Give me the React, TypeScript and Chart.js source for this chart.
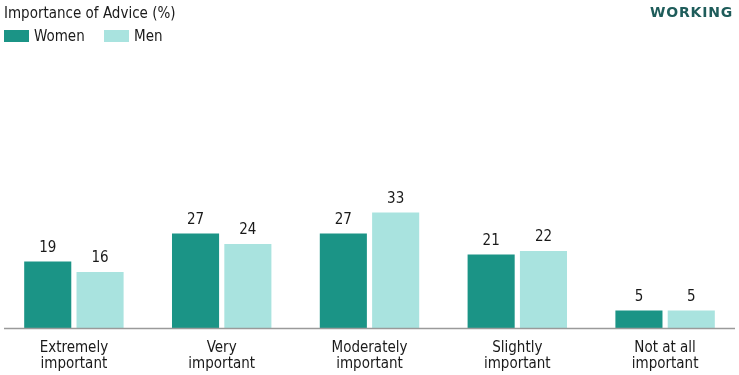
import React, { useEffect, useRef } from "react";
import { Chart, registerables } from "chart.js";

Chart.register(...registerables);

const categories: string[][] = [
  ["Extremely", "important"],
  ["Very", "important"],
  ["Moderately", "important"],
  ["Slightly", "important"],
  ["Not at all", "important"],
];
const women = [19, 27, 27, 21, 5];
const men = [16, 24, 33, 22, 5];
const seriesNames = ["Women", "Men"];
const colors = ["#1b9486", "#a9e3df"];
const title = "Importance of Advice (%)";
const brand = "WORKING";

const FONT = "'Liberation Sans Narrow', 'DejaVu Sans Condensed', sans-serif";

const valueLabels = {
  id: "valueLabels",
  afterDatasetsDraw(chart: any) {
    const ctx = chart.ctx;
    ctx.save();
    ctx.font = `15px ${FONT}`;
    ctx.fillStyle = "#1a1a1a";
    ctx.textAlign = "center";
    ctx.textBaseline = "bottom";
    chart.data.datasets.forEach((ds: any, i: number) => {
      const meta = chart.getDatasetMeta(i);
      meta.data.forEach((bar: any, j: number) => {
        ctx.fillText(String(ds.data[j]), bar.x, bar.y - 6);
      });
    });
    ctx.restore();
  },
};

const baseLine = {
  id: "baseLine",
  afterDatasetsDraw(chart: any) {
    const ctx = chart.ctx;
    const y = chart.chartArea.bottom + 0.5;
    ctx.save();
    ctx.strokeStyle = "#9a9a9a";
    ctx.lineWidth = 1.5;
    ctx.beginPath();
    ctx.moveTo(4, y);
    ctx.lineTo(735, y);
    ctx.stroke();
    ctx.restore();
  },
};

export default function App() {
  const ref = useRef<HTMLCanvasElement>(null);
  useEffect(() => {
    if (!ref.current) return;
    const chart = new Chart(ref.current, {
      type: "bar",
      data: {
        labels: categories,
        datasets: [
          { label: seriesNames[0], data: women, backgroundColor: colors[0] },
          { label: seriesNames[1], data: men, backgroundColor: colors[1] },
        ],
      },
      options: {
        animation: false,
        responsive: false,
        layout: { padding: { left: 0, right: 0, top: 118, bottom: -9 } },
        datasets: {
          bar: { barPercentage: 0.9, categoryPercentage: 0.708 },
        },
        plugins: { legend: { display: false }, tooltip: { enabled: false }, title: { display: false } },
        scales: {
          x: {
            grid: { display: false, drawTicks: false },
            border: { display: false },
            ticks: {
              color: "#1a1a1a",
              font: { family: FONT, size: 15, lineHeight: 1.07 },
              padding: 12,
              maxRotation: 0,
            },
          },
          y: {
            display: false,
            min: 0,
            max: 60,
          },
        },
      },
      plugins: [valueLabels, baseLine],
    });
    return () => chart.destroy();
  }, []);

  return (
    <div style={{ position: "absolute", left: 0, top: 0, width: 739, height: 375, background: "#fff", fontFamily: FONT }}>
      <canvas ref={ref} width={739} height={375} style={{ position: "absolute", left: 0, top: 0 }} />
      <div style={{ position: "absolute", left: 4, top: 4, fontSize: 15, color: "#1a1a1a", lineHeight: "18px" }}>{title}</div>
      <div style={{ position: "absolute", right: 6, top: 2, fontSize: 14, fontWeight: 700, letterSpacing: 0.8, color: "#1e5c5a", fontFamily: "'DejaVu Sans', sans-serif", lineHeight: "20px" }}>{brand}</div>
      <div style={{ position: "absolute", left: 4, top: 27, display: "flex", alignItems: "center", fontSize: 15, color: "#1a1a1a", lineHeight: "18px" }}>
        <span style={{ display: "inline-block", width: 25, height: 12, background: colors[0], marginRight: 5 }} />
        <span style={{ width: 70 }}>{seriesNames[0]}</span>
        <span style={{ display: "inline-block", width: 25, height: 12, background: colors[1], marginRight: 5 }} />
        <span>{seriesNames[1]}</span>
      </div>
    </div>
  );
}
